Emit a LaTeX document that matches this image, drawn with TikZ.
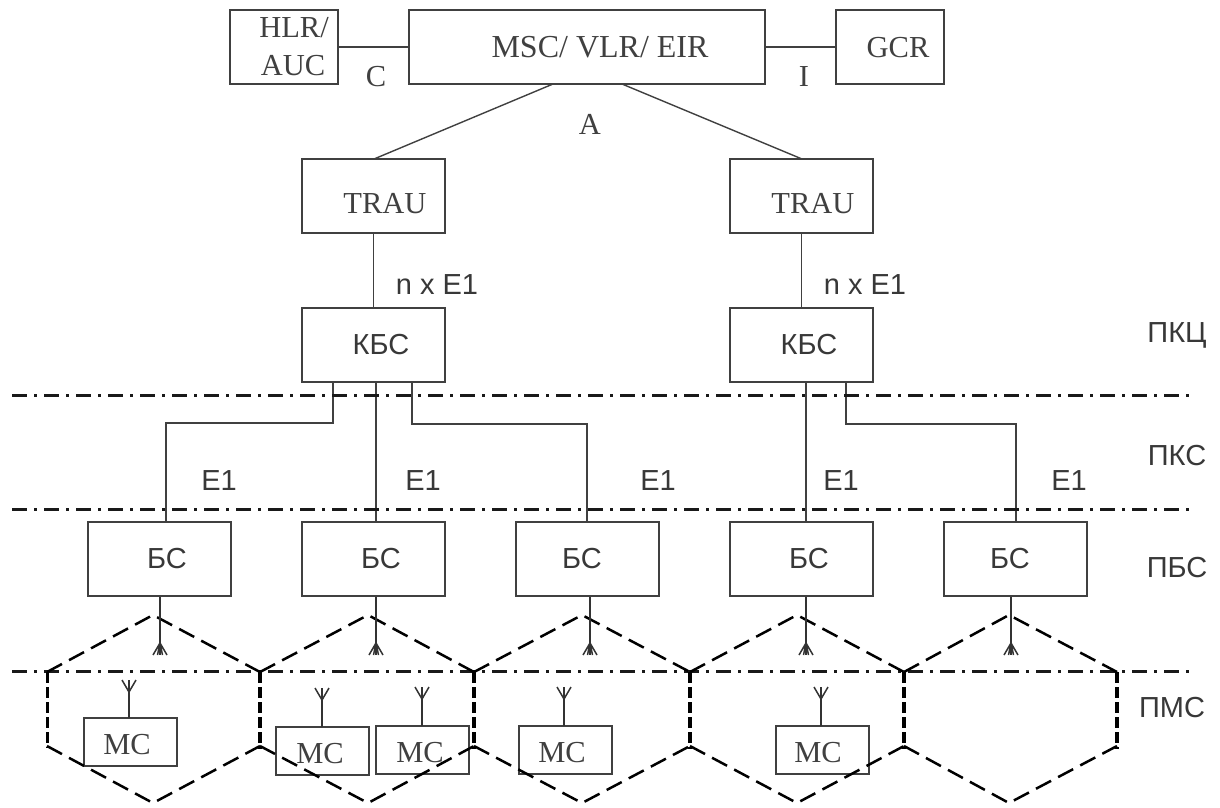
\documentclass[tikz,border=0pt]{standalone}
\usepackage{fontspec}
\setmainfont{Liberation Serif}
\newfontfamily\cyrsans{Liberation Sans}
\begin{document}
\begin{tikzpicture}[x=1pt,y=-1pt,
  box/.style={draw=black!75,line width=1.9pt,outer sep=0pt,minimum width=#1,minimum height=74pt,inner sep=0pt,anchor=north west},
  box/.default=143pt,
  msbox/.style={draw=black!75,line width=1.7pt,outer sep=0pt,minimum width=93pt,minimum height=48pt,inner sep=0pt,anchor=north west},
  serifl/.style={font=\fontsize{30.5}{34}\selectfont,text=black!75,inner sep=0pt,anchor=base},
  sansl/.style={font=\cyrsans\fontsize{29}{34}\selectfont,text=black!78,inner sep=0pt,anchor=base},
  wire/.style={draw=black!75,line width=1.9pt},
  level/.style={draw=black!90,line width=3pt,dash pattern=on 15pt off 7pt on 3pt off 7pt},
  cell/.style={draw=black,line width=2.5pt,dash pattern=on 17pt off 8pt},
  cellv/.style={draw=black,line width=#1,dash pattern=on 11pt off 4pt},
  cellv/.default=3.6pt,
  ant/.style={draw=black!80,line width=1.5pt}]
\useasboundingbox (0,0) rectangle (1220,807);
% boxes
\node[box=108pt] (hlr) at (230,10) {};
\node[serifl] (hlrt) at (294,37) {HLR/};
\node[serifl] (auct) at (293,75) {AUC};
\node[box=356pt] (msc) at (409,10) {};
\node[serifl,font=\fontsize{32}{34}\selectfont] (msct) at (600,57) {MSC/ VLR/ EIR};
\node[box=108pt] (gcr) at (836,10) {};
\node[serifl] (gcrt) at (898,57) {GCR};
\node[box] (tr1) at (302,159) {};
\node[serifl] (tr1t) at (385,213) {TRAU};
\node[box] (tr2) at (730,159) {};
\node[serifl] (tr2t) at (813,213) {TRAU};
\node[box] (k1) at (302,308) {};
\node[sansl] (k1t) at (381,354) {КБС};
\node[box] (k2) at (730,308) {};
\node[sansl] (k2t) at (809,354) {КБС};
\foreach \n/\x/\tx in {b1/88/167,b2/302/381,b3/516/582,b4/730/809,b5/944/1010}{
  \node[box] (\n) at (\x,522) {};
  \node[sansl] (\n t) at (\tx,568) {БС};
}
\node[msbox] (m1) at (84,718) {};
\node[serifl] (m1t) at (127,754) {МС};
\node[msbox] (m2) at (276,727) {};
\node[serifl] (m2t) at (320,763) {МС};
\node[msbox] (m3) at (376,726) {};
\node[serifl] (m3t) at (420,762) {МС};
\node[msbox] (m4) at (519,726) {};
\node[serifl] (m4t) at (562,762) {МС};
\node[msbox] (m5) at (776,726) {};
\node[serifl] (m5t) at (818,762) {МС};
% upper connectors
\draw[wire] (hlr.east) -- (msc.west);
\draw[wire] (msc.east) -- (gcr.west);
\coordinate (a1) at (553,84);
\coordinate (a2) at (622,84);
\coordinate (t1) at (374,159);
\coordinate (t2) at (802,159);
\draw[wire,line width=1.4pt] (a1) -- (t1);
\draw[wire,line width=1.4pt] (a2) -- (t2);
\draw[wire] (tr1.south) -- (k1.north);
\draw[wire] (tr2.south) -- (k2.north);
% E1 connectors
\coordinate (s1) at (333,383);
\coordinate (s2) at (412,383);
\coordinate (s3) at (846,383);
\coordinate (s4) at (376,383);
\coordinate (s5) at (806,383);
\draw[wire] (s1) -- (333,423) -- (166,423) -- (166,522);
\draw[wire] (s4) -- (376,522);
\draw[wire] (s2) -- (412,424) -- (587,424) -- (587,522);
\draw[wire] (s5) -- (806,522);
\draw[wire] (s3) -- (846,424) -- (1016,424) -- (1016,522);
% level lines
\foreach \y in {395,509,671}{
  \draw[level] (12,\y) -- (1191,\y);
}
% hexagons
\foreach \xa/\xm/\xb in {47/153/260,260/368/474,474/582/690,690/797/904,904/1009/1117}{
  \draw[cell] (\xa,672) -- (\xm,615) -- (\xb,672);
  \draw[cell] (\xa,746) -- (\xm,803) -- (\xb,746);
}
\draw[cellv=3pt] (47,672) -- (47,748);
\foreach \x in {260,474,690,904,1117}{
  \draw[cellv] (\x,672) -- (\x,749);
}
% base station antennas
\foreach \n/\x in {b1/160,b2/376,b3/590,b4/806,b5/1011}{
  \draw[ant] (\x,597) -- (\x,655);
  \draw[ant] (\x-7,655) -- (\x,643) -- (\x+7,655) (\x-2.5,655) -- (\x,643) -- (\x+2.5,655);
}
% mobile antennas
\foreach \x/\yb/\yt in {129/718/680,322/727/688,422/726/687,564/726/687,821/726/687}{
  \draw[ant] (\x,\yb) -- (\x,\yt);
  \draw[ant] (\x-7,\yt) -- (\x,\yt+12) -- (\x+7,\yt);
}
% labels
\node[serifl] (lc) at (376,86) {C};
\node[serifl] (li) at (804,86) {I};
\node[serifl] (la) at (590,134) {A};
\node[sansl] (n1) at (437,294) {n x E1};
\node[sansl] (n2) at (865,294) {n x E1};
\foreach \x in {219,423,658,841,1069}{
  \node[sansl] (e\x) at (\x,490) {E1};
}
\node[sansl] (p1) at (1177,342) {ПКЦ};
\node[sansl] (p2) at (1177,465) {ПКС};
\node[sansl] (p3) at (1177,577) {ПБС};
\node[sansl] (p4) at (1172,717) {ПМС};
\end{tikzpicture}
\end{document}
